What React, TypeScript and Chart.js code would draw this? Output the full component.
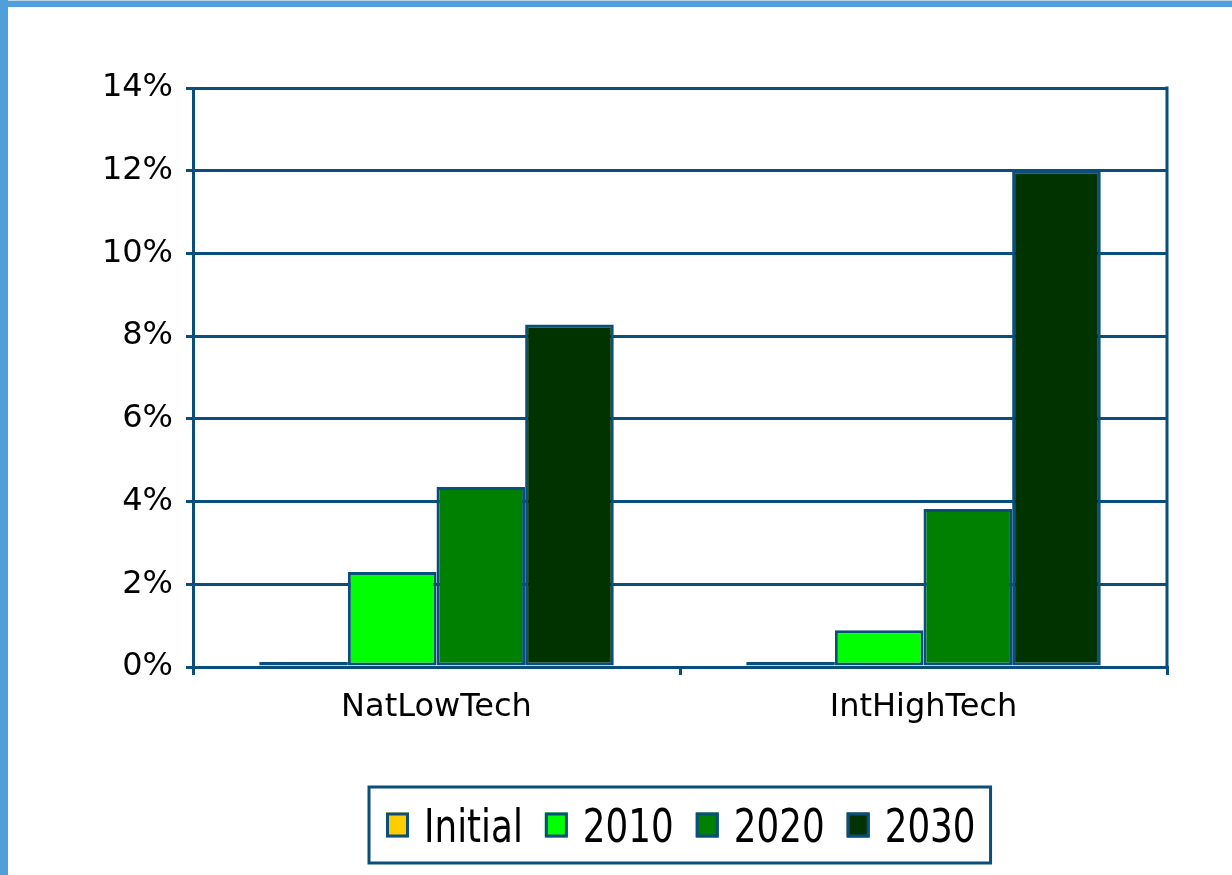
import React, { useEffect, useRef } from "react";
import { Chart, registerables } from "chart.js";

Chart.register(...registerables);

const categories = ["NatLowTech", "IntHighTech"];
const seriesNames = ["Initial", "2010", "2020", "2030"];
const initialValues = [0.12, 0.12];
const values2010 = [2.3, 0.89];
const values2020 = [4.35, 3.82];
const values2030 = [8.28, 12.0];
const yTicks = [0, 2, 4, 6, 8, 10, 12, 14];

const seriesColors = ["#ffcc00", "#00ff00", "#008000", "#003300"];
const LINE = "#0a4f7c";
const TICK_FONT = "'DejaVu Sans', sans-serif";

const frameBorderPlugin = {
  id: "frameBorder",
  afterDatasetsDraw(chart: any) {
    const { ctx, chartArea } = chart;
    ctx.save();
    ctx.strokeStyle = LINE;
    ctx.lineWidth = 3;
    ctx.beginPath();
    ctx.moveTo(chartArea.right, chartArea.top - 1.5);
    ctx.lineTo(chartArea.right, chartArea.bottom);
    ctx.stroke();
    ctx.restore();
  },
};

const boxLegendPlugin = {
  id: "boxLegend",
  afterDraw(chart: any) {
    const { ctx } = chart;
    const boxLeft = 369;
    const boxTop = 787;
    const boxBottom = 863;
    const sx = 0.76;
    ctx.save();
    ctx.font = "47px 'DejaVu Sans', sans-serif";
    const items = chart.data.datasets.map((d: any) => ({
      label: d.label,
      color: d.backgroundColor,
      w: ctx.measureText(d.label).width * sx,
    }));
    let x = boxLeft + 17;
    const midY = (boxTop + boxBottom) / 2;
    let endX = x;
    items.forEach((it: any) => {
      ctx.fillStyle = it.color;
      ctx.fillRect(x, midY - 12.5, 23, 25);
      ctx.strokeStyle = LINE;
      ctx.lineWidth = 3;
      ctx.strokeRect(x + 1.5, midY - 11, 20, 22);
      const tx = x + 38;
      ctx.save();
      ctx.translate(tx, midY + 17);
      ctx.scale(sx, 1);
      ctx.fillStyle = "#000";
      ctx.textBaseline = "alphabetic";
      ctx.textAlign = "left";
      ctx.fillText(it.label, 0, 0);
      ctx.restore();
      endX = tx + it.w;
      x = endX + 22;
    });
    ctx.strokeStyle = LINE;
    ctx.lineWidth = 3;
    ctx.strokeRect(boxLeft, boxTop, endX + 15 - boxLeft, boxBottom - boxTop);
    ctx.restore();
  },
};

export default function App() {
  const canvasRef = useRef<HTMLCanvasElement | null>(null);

  useEffect(() => {
    document.body.style.margin = "0";
    const canvas = canvasRef.current;
    if (!canvas) return;
    const data = [initialValues, values2010, values2020, values2030];
    const chart = new Chart(canvas, {
      type: "bar",
      data: {
        labels: categories,
        datasets: seriesNames.map((name, i) => ({
          label: name,
          data: data[i],
          backgroundColor: seriesColors[i],
          borderColor: LINE,
          borderWidth: 3,
          borderSkipped: false,
          categoryPercentage: 0.728,
          barPercentage: 1.0,
        })),
      },
      options: {
        responsive: false,
        animation: false,
        devicePixelRatio: 1,
        layout: { padding: { left: 0, right: 65, top: 88, bottom: 148 } },
        plugins: {
          legend: { display: false },
          tooltip: { enabled: false },
        },
        scales: {
          x: {
            grid: {
              offset: true,
              drawOnChartArea: false,
              drawTicks: true,
              tickLength: 8,
              color: LINE,
              lineWidth: 3,
            },
            border: { color: LINE, width: 3 },
            ticks: {
              color: "#000",
              font: { family: TICK_FONT, size: 32 },
              padding: 13,
            },
            afterFit(scale: any) {
              scale.height = 60;
            },
          },
          y: {
            min: 0,
            max: 14,
            grid: {
              color: LINE,
              lineWidth: 3,
              tickLength: 7,
            },
            border: { color: LINE, width: 3 },
            afterBuildTicks(scale: any) {
              scale.ticks = yTicks.map((v) => ({ value: v }));
            },
            ticks: {
              color: "#000",
              font: { family: TICK_FONT, size: 32 },
              padding: 13,
              callback: (v: any) => v + "%",
            },
            afterFit(scale: any) {
              scale.width = 193;
            },
          },
        },
      },
      plugins: [frameBorderPlugin, boxLegendPlugin],
    });
    return () => chart.destroy();
  }, []);

  return (
    <div style={{ position: "relative", width: 1232, height: 875, background: "#fff", overflow: "hidden" }}>
      <div style={{ position: "absolute", left: 0, top: 0, width: 1232, height: 7, background: "#519fd9", borderTop: "1px solid #b9d8f0", boxSizing: "border-box" }} />
      <div style={{ position: "absolute", left: 0, top: 0, width: 8, height: 875, background: "#519fd9" }} />
      <canvas ref={canvasRef} width={1232} height={875} style={{ position: "absolute", left: 0, top: 0, display: "block" }} />
    </div>
  );
}
